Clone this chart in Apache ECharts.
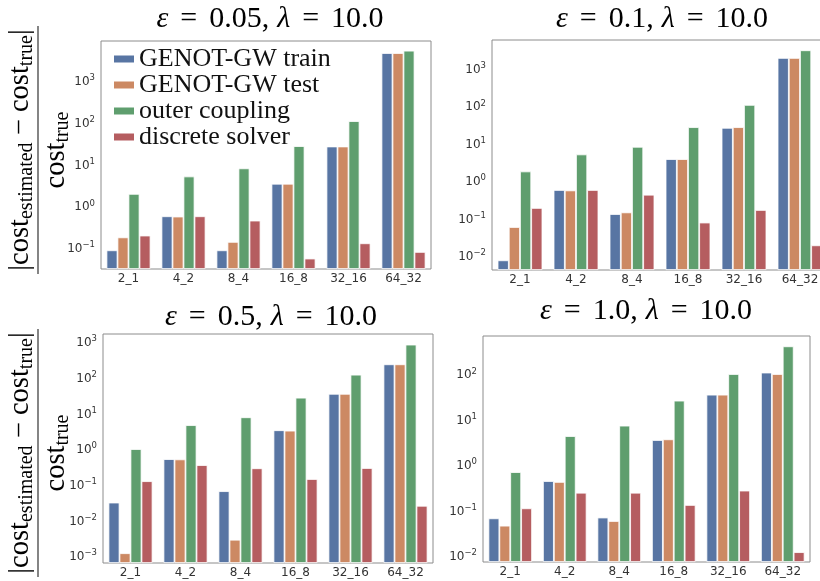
<!DOCTYPE html>
<html>
<head>
<meta charset="utf-8">
<script src="https://cdn.jsdelivr.net/npm/echarts@6/dist/echarts.min.js"></script>
<style>
  html, body { margin: 0; padding: 0; background: #fff; }
  #chart { width: 820px; height: 581px; }
</style>
</head>
<body>
<div id="chart"></div>
<script>
// Problem sizes on the x axis
const categories = ['2_1', '4_2', '8_4', '16_8', '32_16', '64_32'];
const seriesNames = ['GENOT-GW train', 'GENOT-GW test', 'outer coupling', 'discrete solver'];

// Relative error |cost_est - cost_true| / cost_true, eps = 0.05
const eps005Train    = [0.093, 0.61, 0.093, 3.67, 28.8, 5030];
const eps005Test     = [0.19, 0.60, 0.148, 3.67, 28.8, 5030];
const eps005Outer    = [2.1, 5.5, 8.6, 29.4, 117, 5720];
const eps005Discrete = [0.21, 0.61, 0.48, 0.059, 0.137, 0.085];

// eps = 0.1
const eps01Train    = [0.0081, 0.616, 0.14, 4.13, 28.3, 2090];
const eps01Test     = [0.063, 0.60, 0.155, 4.13, 29.5, 2090];
const eps01Outer    = [1.93, 5.5, 8.8, 29.5, 116, 3350];
const eps01Discrete = [0.204, 0.616, 0.46, 0.083, 0.18, 0.0204];

// eps = 0.5
const eps05Train    = [0.034, 0.56, 0.071, 3.6, 37.6, 252];
const eps05Test     = [0.0013, 0.55, 0.0031, 3.5, 37.6, 252];
const eps05Outer    = [1.07, 5.0, 8.3, 29.3, 129, 898];
const eps05Discrete = [0.135, 0.38, 0.31, 0.155, 0.316, 0.0276];

// eps = 1.0
const eps1Train    = [0.071, 0.47, 0.074, 3.77, 37.5, 115];
const eps1Test     = [0.049, 0.45, 0.062, 3.9, 37.5, 107];
const eps1Outer    = [0.74, 4.6, 7.8, 27.7, 107, 435];
const eps1Discrete = [0.118, 0.26, 0.26, 0.14, 0.29, 0.0128];

// Panel titles
const epsLabels = ['0.05', '0.1', '0.5', '1.0'];
const lambdaLabel = '10.0';

const colors = ['#5875A3', '#CC8963', '#5F9E6E', '#B55D60'];

// Layout of the 2x2 panels (axis range given as log10 exponents)
const panels = [
  { data: [eps005Train, eps005Test, eps005Outer, eps005Discrete],
    grid: { left: 101, top: 41, width: 330, height: 228 }, logMin: -1.48, logMax: 3.99, title: [270, 19] },
  { data: [eps01Train, eps01Test, eps01Outer, eps01Discrete],
    grid: { left: 492, top: 40, width: 336, height: 230 }, logMin: -2.35, logMax: 3.80, title: [662, 19] },
  { data: [eps05Train, eps05Test, eps05Outer, eps05Discrete],
    grid: { left: 103, top: 334, width: 330, height: 229 }, logMin: -3.16, logMax: 3.25, title: [271, 317] },
  { data: [eps1Train, eps1Test, eps1Outer, eps1Discrete],
    grid: { left: 483, top: 336, width: 327, height: 226 }, logMin: -2.11, logMax: 2.866, title: [646, 311] }
];

const SERIF = 'Liberation Serif';
const SANS = 'DejaVu Sans';

function powerLabel(v) {
  const lg = Math.log10(v);
  const e = Math.round(lg);
  if (Math.abs(lg - e) > 1e-6) return '';
  return '{b|10}{s|' + (e < 0 ? '\u2212' + (-e) : e) + '}';
}

const tickRich = {
  b: { fontSize: 12, fontFamily: SANS, color: '#333' },
  s: { fontSize: 8.5, fontFamily: SANS, color: '#333', padding: [0, 0, 8, 0] }
};

const grids = [], xAxes = [], yAxes = [], series = [], graphics = [];

panels.forEach((p, i) => {
  grids.push(Object.assign({
    show: true, borderColor: '#8c8c8c', borderWidth: 1, backgroundColor: '#fff',
    containLabel: false, outerBoundsMode: 'none'
  }, p.grid));
  xAxes.push({
    type: 'category', gridIndex: i, data: categories,
    axisLine: { show: false }, axisTick: { show: false },
    axisLabel: { color: '#333', fontSize: 12, fontFamily: SANS, margin: 4 }
  });
  yAxes.push({
    type: 'log', logBase: 10, gridIndex: i,
    min: Math.pow(10, p.logMin), max: Math.pow(10, p.logMax),
    startValue: Math.pow(10, p.logMin),
    axisLine: { show: false }, axisTick: { show: false },
    splitLine: { show: false }, minorTick: { show: false },
    axisLabel: { formatter: powerLabel, rich: tickRich, margin: 6 }
  });
  p.data.forEach((vals, j) => {
    series.push({
      type: 'bar', name: seriesNames[j], xAxisIndex: i, yAxisIndex: i,
      data: vals, barGap: '0%', barCategoryGap: '20%',
      itemStyle: { color: colors[j], borderColor: '#fff', borderWidth: 0.8 },
      emphasis: { disabled: true }, animation: false
    });
  });

  const titleRich = {
    i: { fontFamily: SERIF, fontSize: 30, fontStyle: 'italic', fill: '#000' },
    n: { fontFamily: SERIF, fontSize: 30, fill: '#000' },
    o: { fontFamily: SERIF, fontSize: 30, fill: '#000', padding: [0, 12, 0, 12] },
    l: { fontFamily: SERIF, fontSize: 30, fontStyle: 'italic', fill: '#000', padding: [0, 0, 0, 8] }
  };
  graphics.push({
    type: 'text', x: p.title[0], y: p.title[1], silent: true,
    style: {
      text: '{i|\u03b5}{o|=}{n|' + epsLabels[i] + ',}{l|\u03bb}{o|=}{n|' + lambdaLabel + '}',
      rich: titleRich, align: 'center', verticalAlign: 'middle'
    }
  });
});

// Fraction-style y axis title, rotated to read bottom-to-top
function fractionLabel(cx, cy) {
  const rich = {
    t: { fontFamily: SERIF, fontSize: 28.5, fill: '#000' },
    s: { fontFamily: SERIF, fontSize: 20, fill: '#000', padding: [13, 0, 0, 0] }
  };
  return {
    type: 'group', x: cx, y: cy, rotation: Math.PI / 2, silent: true,
    children: [
      { type: 'text', x: 0, y: -1,
        style: { text: '{t||cost}{s|estimated}{t| \u2212 cost}{s|true}{t||}', rich, align: 'center', verticalAlign: 'bottom' } },
      { type: 'line', shape: { x1: -124, y1: 0, x2: 124, y2: 0 }, style: { stroke: '#333', lineWidth: 1.2 } },
      { type: 'text', x: 0, y: 2,
        style: { text: '{t|cost}{s|true}', rich, align: 'center', verticalAlign: 'top' } }
    ]
  };
}
graphics.push(fractionLabel(38, 150));
graphics.push(fractionLabel(38, 453));

const chart = echarts.init(document.getElementById('chart'), null, { renderer: 'canvas' });
chart.setOption({
  animation: false,
  backgroundColor: '#fff',
  grid: grids,
  xAxis: xAxes,
  yAxis: yAxes,
  series: series,
  legend: {
    orient: 'vertical', left: 114, top: 46, padding: 0,
    itemWidth: 20, itemHeight: 7, itemGap: 0, icon: 'rect',
    selectedMode: false, data: seriesNames,
    itemStyle: { borderWidth: 0 },
    textStyle: { fontFamily: SERIF, fontSize: 26, color: '#111', lineHeight: 21 }
  },
  graphic: graphics
});
</script>
</body>
</html>
